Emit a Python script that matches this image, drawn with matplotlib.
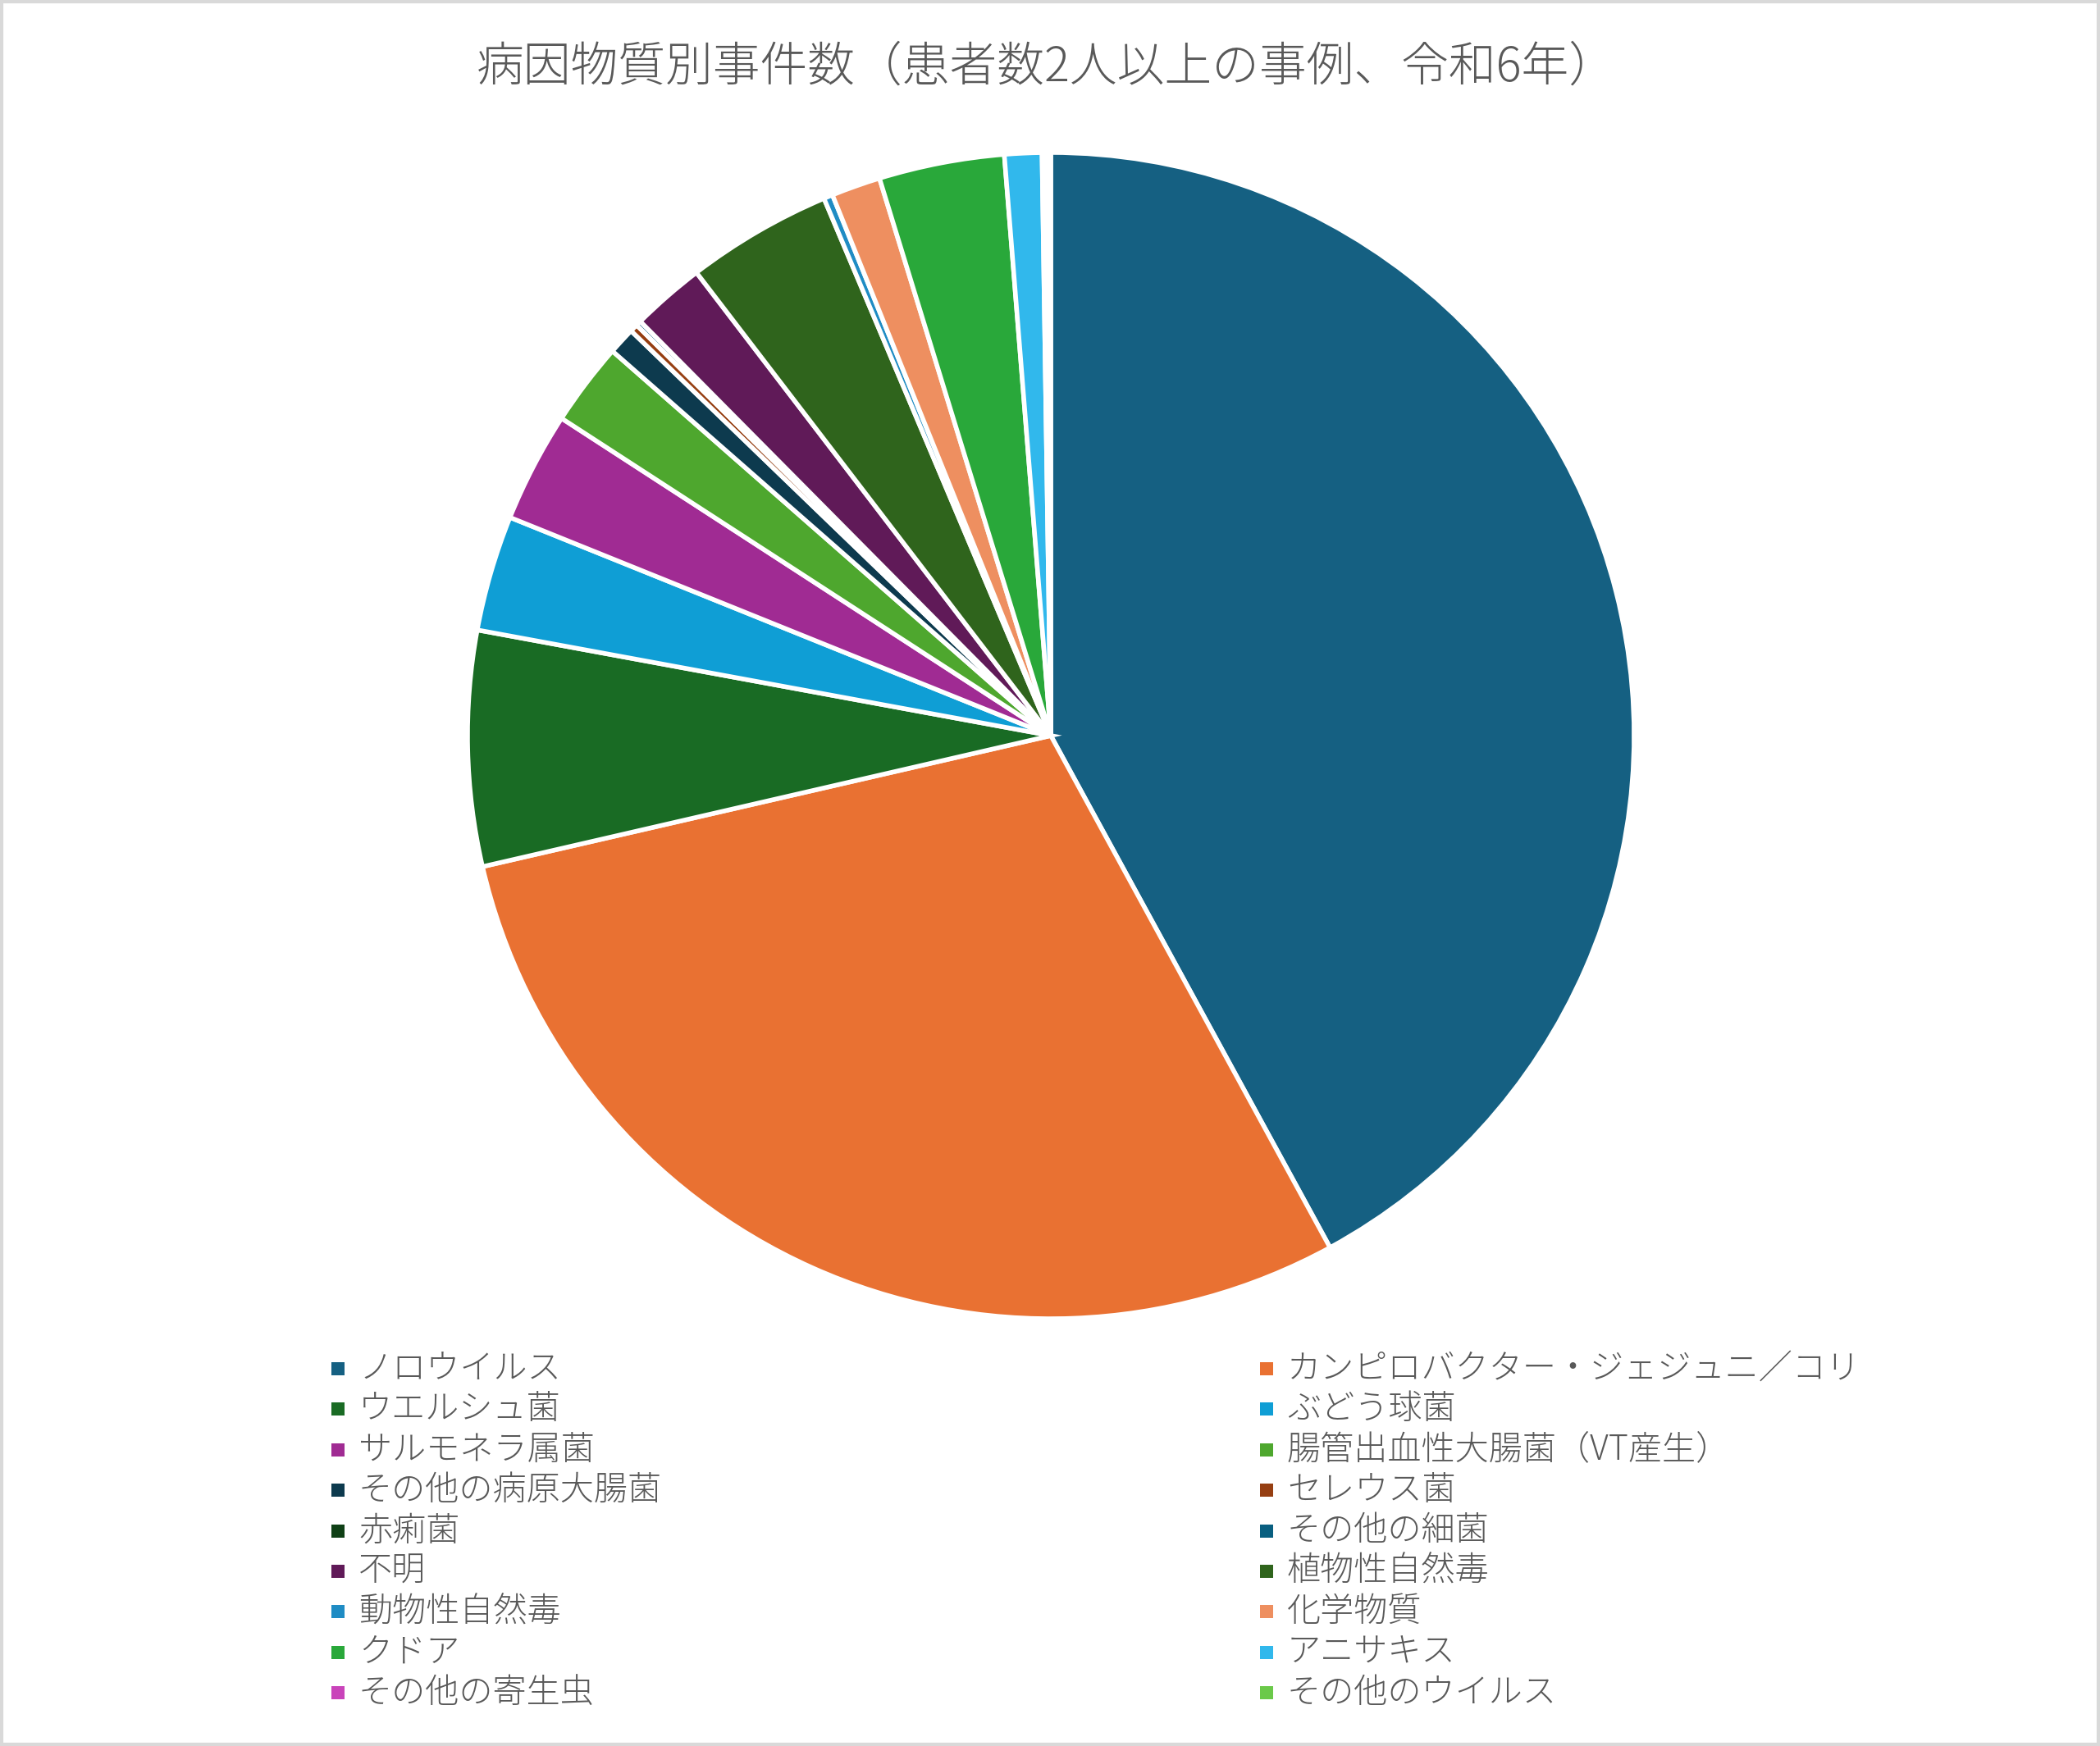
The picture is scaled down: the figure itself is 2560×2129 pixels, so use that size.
import matplotlib
matplotlib.use("Agg")
import matplotlib.pyplot as plt
from matplotlib.patches import Rectangle

plt.rcParams['font.family'] = ['Noto Sans CJK JP', 'DejaVu Sans']

title = "病因物質別事件数（患者数2人以上の事例、令和6年）"

categories = [
    "ノロウイルス", "カンピロバクター・ジェジュニ／コリ",
    "ウエルシュ菌", "ぶどう球菌",
    "サルモネラ属菌", "腸管出血性大腸菌（VT産生）",
    "その他の病原大腸菌", "セレウス菌",
    "赤痢菌", "その他の細菌",
    "不明", "植物性自然毒",
    "動物性自然毒", "化学物質",
    "クドア", "アニサキス",
    "その他の寄生虫", "その他のウイルス",
]
# estimated share (%)
values = [42.0, 29.3, 6.5, 3.2, 3.05, 2.3, 0.75, 0.22, 0.0, 0.14,
          2.03, 4.03, 0.25, 1.36, 3.47, 1.03, 0.12, 0.12]

colors = ["#156082", "#E97132", "#196B24", "#0F9ED5", "#A02B93", "#4EA72E",
          "#0D3A4E", "#963F12", "#0F4016", "#095F80", "#601A58", "#2F641C",
          "#1F8CC4", "#EE8F60", "#29A83A", "#31B8EC", "#C944BA", "#6BC94A"]

W, H = 2560, 2129
fig = plt.figure(figsize=(W / 200, H / 200), dpi=200)
fig.patch.set_facecolor("white")

# outer border
fig.patches.append(Rectangle((0.0008, 0.001), 0.9984, 0.998, transform=fig.transFigure,
                             fill=False, edgecolor="#D9D9D9", linewidth=1.5))

cx, cy, r = 1281, 897, 711
ax = fig.add_axes([(cx - r) / W, (H - cy - r) / H, 2 * r / W, 2 * r / H])
ax.pie(values, colors=colors, startangle=90, counterclock=False, radius=1,
       wedgeprops=dict(edgecolor="white", linewidth=2.0))
ax.set_xlim(-1, 1)
ax.set_ylim(-1, 1)
ax.set_aspect("equal")
ax.axis("off")

fig.text(1276 / W, 1 - 82 / H, title, ha="center", va="center",
         fontsize=20.8, color="#595959", fontweight="light")

# legend (two columns, row-major)
row0, dy = 1669, 49.4
marker_x = [412, 1544]
text_x = [437, 1569]
msize = 16
for i, (lab, col) in enumerate(zip(categories, colors)):
    row, c = divmod(i, 2)
    y = row0 + row * dy
    fig.patches.append(Rectangle(((marker_x[c] - msize / 2) / W, (H - y - msize / 2) / H),
                                 msize / W, msize / H, transform=fig.transFigure,
                                 facecolor=col, edgecolor="none"))
    fig.text(text_x[c] / W, 1 - y / H, lab, ha="left", va="center",
             fontsize=14.8, color="#595959", fontweight="light")

fig.savefig("out.png", dpi=200, facecolor="white")
